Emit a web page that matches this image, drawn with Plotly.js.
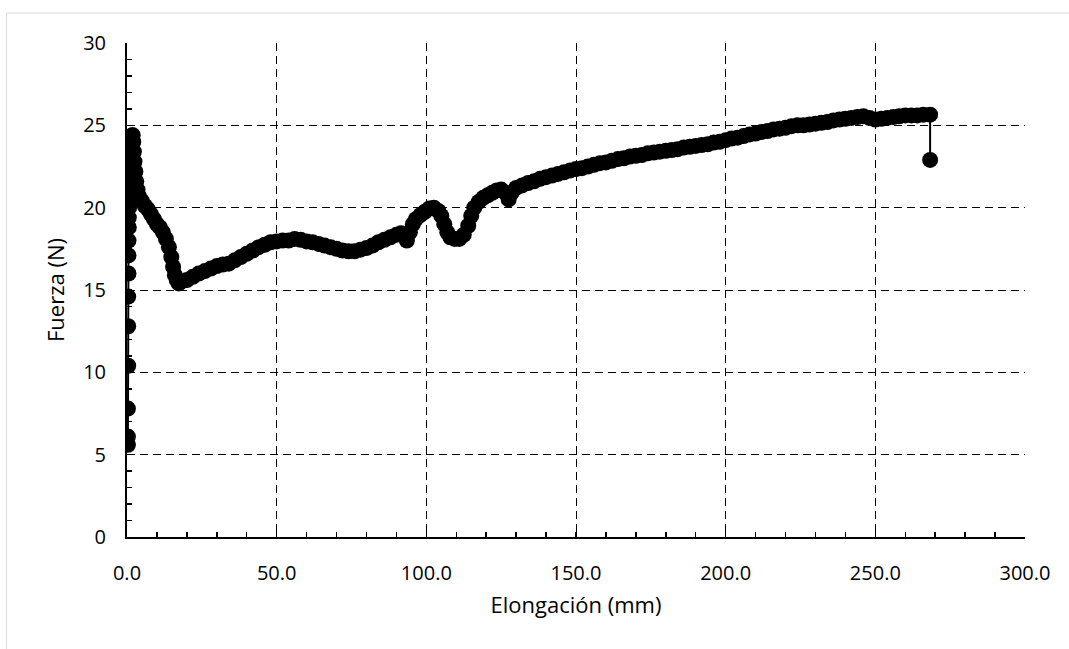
<!DOCTYPE html>
<html>
<head>
<meta charset="utf-8">
<script src="https://cdn.plot.ly/plotly-3.0.1.min.js"></script>
<style>
  html, body { margin: 0; padding: 0; background: #ffffff; }
  #chart { width: 1069px; height: 649px; }
</style>
</head>
<body>
<div id="chart"></div>
<script>
// Ensayo de tracción: elongación (mm) frente a fuerza (N)
const elongacion = [
  0.3, 0.3, 0.3, 0.4, 0.4, 0.4, 0.5, 0.5, 0.5, 0.6, 0.6, 0.7, 0.8, 0.9, 1.0, 1.1, 1.2, 1.3, 1.4, 1.5, 1.7,
  1.9, 2.1, 2.3, 2.5, 2.8, 3.1, 3.5, 4.0, 5.0, 6.0, 7.0, 8.0, 9.0, 10.0, 11.0, 12.0, 13.0, 14.0, 14.8, 15.4, 16.0, 16.6, 17.3,
  18, 20, 22, 24, 26, 28, 30, 32, 34, 36, 38, 40, 42, 44, 46, 48, 50, 52, 54, 56, 58, 60,
  62, 64, 66, 68, 70, 72, 74, 76, 78, 80, 82, 84, 86, 88, 90, 91.5, 92.5, 93.5, 94.5, 95.5, 96.5, 98, 99.5,
  101, 102.5, 104, 105, 106, 107, 108, 109.5, 111, 112.5, 114, 115, 116, 117.5, 119, 120.5,
  122, 123.5, 125, 126.5, 127.5, 128.5, 130, 132, 134, 136, 138, 140, 142, 144, 146, 148,
  150, 152, 154, 156, 158, 160, 162, 164, 166, 168, 170, 172, 174, 176, 178, 180, 182, 184,
  186, 188, 190, 192, 194, 196, 198, 200, 202, 204, 206, 208, 210, 212, 214, 216, 218, 220,
  222, 224, 226, 228, 230, 232, 234, 236, 238, 240, 242, 244, 246, 248, 250, 252, 254, 256,
  258, 260, 262, 264, 266, 268.3, 268.3
];
const fuerza = [
  5.6, 6.1, 7.8, 10.4, 12.8, 14.6, 16.0, 17.1, 18.0, 18.8, 19.4, 20.0, 20.6, 21.2, 21.8, 22.4, 22.9, 23.4, 23.8, 24.2, 24.4,
  24.4, 24.0, 23.4, 22.8, 22.2, 21.6, 21.1, 20.7, 20.4, 20.1, 19.9, 19.6, 19.3, 19.0, 18.8, 18.5, 18.1, 17.6, 17.0, 16.4, 15.9, 15.6, 15.4,
  15.5, 15.6, 15.8, 16.0, 16.15, 16.3, 16.45, 16.55, 16.6, 16.8, 17.0, 17.2, 17.4, 17.6, 17.75, 17.9, 17.95, 18.0, 18.0, 18.1, 18.05, 17.95,
  17.9, 17.8, 17.7, 17.6, 17.5, 17.4, 17.35, 17.35, 17.45, 17.55, 17.7, 17.9, 18.05, 18.2, 18.35, 18.45, 18.3, 18.0, 18.5, 19.0, 19.3, 19.55, 19.75,
  19.95, 20.0, 19.8, 19.5, 19.0, 18.5, 18.2, 18.1, 18.1, 18.35, 18.9, 19.5, 20.0, 20.35, 20.6, 20.75,
  20.9, 21.05, 21.1, 20.9, 20.5, 20.9, 21.2, 21.35, 21.5, 21.6, 21.75, 21.85, 21.95, 22.05, 22.15, 22.25,
  22.35, 22.4, 22.5, 22.6, 22.7, 22.75, 22.85, 22.95, 23.0, 23.1, 23.15, 23.2, 23.3, 23.35, 23.4, 23.45, 23.5, 23.55,
  23.65, 23.7, 23.75, 23.8, 23.85, 23.95, 24.0, 24.1, 24.2, 24.25, 24.35, 24.45, 24.5, 24.6, 24.65, 24.75, 24.8, 24.85,
  24.95, 25.0, 25.0, 25.05, 25.1, 25.15, 25.2, 25.3, 25.35, 25.4, 25.45, 25.5, 25.55, 25.45, 25.35, 25.4, 25.45, 25.5,
  25.55, 25.6, 25.6, 25.6, 25.65, 25.65, 22.9
];

const xTicks = [0, 50, 100, 150, 200, 250, 300];
const xTickText = ['0.0', '50.0', '100.0', '150.0', '200.0', '250.0', '300.0'];
const yTicks = [0, 5, 10, 15, 20, 25, 30];

const fontFamily = '"Open Sans", "DejaVu Sans", sans-serif';

const trace = {
  type: 'scatter',
  mode: 'lines+markers',
  x: elongacion,
  y: fuerza,
  line: { color: '#000000', width: 2 },
  marker: { color: '#000000', size: 16 },
  showlegend: false,
  hoverinfo: 'x+y'
};

const axisCommon = {
  showline: true,
  linecolor: '#000000',
  linewidth: 2,
  mirror: false,
  zeroline: false,
  showgrid: true,
  gridcolor: '#000000',
  gridwidth: 1,
  griddash: '8px,5px',
  ticks: 'inside',
  ticklen: 5,
  tickwidth: 1.5,
  tickcolor: '#000000',
  tickfont: { family: fontFamily, size: 20, color: '#000000' }
};

const layout = {
  width: 1069,
  height: 649,
  paper_bgcolor: '#ffffff',
  plot_bgcolor: '#ffffff',
  margin: { l: 127, r: 44, t: 43, b: 112 },
  xaxis: Object.assign({}, axisCommon, {
    range: [0, 300],
    tickmode: 'array',
    tickvals: xTicks,
    ticktext: xTickText,
    ticklabelstandoff: 17,
    minor: { dtick: 10, ticks: 'inside', ticklen: 5, tickwidth: 1.5, tickcolor: '#000000', showgrid: false },
    title: { text: 'Elongación (mm)', font: { family: fontFamily, size: 22, color: '#000000' }, standoff: 13 }
  }),
  yaxis: Object.assign({}, axisCommon, {
    range: [0, 30],
    tickmode: 'array',
    tickvals: yTicks,
    ticklabelstandoff: 15,
    minor: { dtick: 1, ticks: 'inside', ticklen: 5, tickwidth: 1.5, tickcolor: '#000000', showgrid: false },
    title: { text: 'Fuerza (N)', font: { family: fontFamily, size: 22, color: '#000000' }, standoff: 12 }
  }),
  shapes: [
    {
      type: 'rect', xref: 'paper', yref: 'paper',
      x0: -0.1343, x1: 1.2, y0: -0.5, y1: 1.0607,
      line: { color: '#d9d9d9', width: 1 },
      fillcolor: 'rgba(0,0,0,0)',
      layer: 'below'
    }
  ]
};

Plotly.newPlot('chart', [trace], layout, { displayModeBar: false, staticPlot: true });
</script>
</body>
</html>
